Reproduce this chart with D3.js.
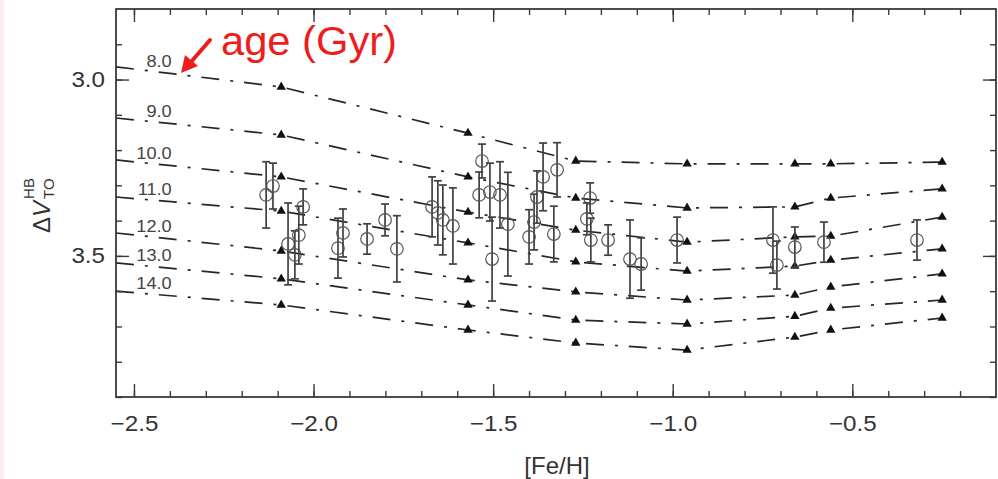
<!DOCTYPE html>
<html>
<head>
<meta charset="utf-8">
<script src="https://cdn.jsdelivr.net/npm/d3@7"></script>
<style>
  html, body { margin: 0; padding: 0; background: #fff; }
  svg { display: block; }
  text { font-family: "Liberation Sans", Arial, Helvetica, sans-serif; }
</style>
</head>
<body>
<svg id="chart" width="998" height="479"></svg>
<script>
// Globular clusters: [Fe/H], ΔV(HB–TO) and its error
const clusterFeH = [-2.132, -2.113, -2.071, -2.052, -2.041, -2.029, -1.932, -1.918, -1.851, -1.801,
  -1.768, -1.670, -1.654, -1.640, -1.612, -1.531, -1.539, -1.509, -1.503, -1.481,
  -1.459, -1.400, -1.386, -1.378, -1.361, -1.322, -1.331, -1.230, -1.239, -1.228,
  -1.180, -1.119, -1.088, -0.988, -0.721, -0.710, -0.660, -0.579, -0.320];
const clusterDV = [3.327, 3.302, 3.466, 3.497, 3.441, 3.361, 3.478, 3.435, 3.452, 3.398,
  3.480, 3.361, 3.378, 3.398, 3.415, 3.231, 3.327, 3.319, 3.509, 3.327,
  3.410, 3.446, 3.404, 3.333, 3.276, 3.256, 3.438, 3.336, 3.395, 3.455,
  3.455, 3.509, 3.523, 3.455, 3.455, 3.526, 3.475, 3.461, 3.455];
const clusterErr = [0.094, 0.065, 0.116, 0.068, 0.082, 0.051, 0.085, 0.068, 0.043, 0.045,
  0.094, 0.085, 0.091, 0.099, 0.108, 0.048, 0.065, 0.082, 0.119, 0.094,
  0.147, 0.077, 0.079, 0.074, 0.096, 0.077, 0.079, 0.043, 0.045, 0.062,
  0.043, 0.111, 0.074, 0.065, 0.094, 0.068, 0.057, 0.057, 0.057];

// Isochrone grid: [Fe/H] nodes (first node is the left edge of the plot, unmarked)
const modelFeH = [-2.55, -2.09, -1.57, -1.27, -0.96, -0.66, -0.56, -0.25];
const ageLabels = ["8.0", "9.0", "10.0", "11.0", "12.0", "13.0", "14.0"];
const dv8  = [2.964, 3.021, 3.152, 3.231, 3.239, 3.239, 3.239, 3.234];
const dv9  = [3.109, 3.157, 3.276, 3.336, 3.364, 3.361, 3.336, 3.310];
const dv10 = [3.228, 3.276, 3.376, 3.427, 3.461, 3.446, 3.444, 3.390];
const dv11 = [3.333, 3.373, 3.463, 3.517, 3.543, 3.529, 3.512, 3.480];
const dv12 = [3.435, 3.486, 3.568, 3.602, 3.625, 3.611, 3.588, 3.551];
const dv13 = [3.520, 3.565, 3.639, 3.682, 3.693, 3.671, 3.648, 3.625];
const dv14 = [3.600, 3.639, 3.710, 3.747, 3.767, 3.730, 3.710, 3.676];

// Axis ticks
const xMajorTicks = [-2.5, -2.0, -1.5, -1.0, -0.5];
const xMinorTicks = d3.range(-25, -1).map(v => v / 10);
const yMajorTicks = [3.0, 3.5];
const yMinorTicks = d3.range(29, 40).map(v => v / 10);

const svg = d3.select("#chart");
const plotLeft = 116, plotRight = 996, plotTop = 9, plotBottom = 397;

const x = d3.scaleLinear().domain([-2.55, -0.1]).range([plotLeft, plotRight]);
const y = d3.scaleLinear().domain([2.8, 3.9]).range([plotTop, plotBottom]);

const ink = "#3a3a3a";
const fmt = d3.format(".1f");

// Faint tint along the left edge of the page
svg.append("rect").attr("x", 0).attr("y", 0).attr("width", 4).attr("height", 479)
  .attr("fill", "#fbeeee");

// Isochrone lines
const lines = [dv8, dv9, dv10, dv11, dv12, dv13, dv14].map((dv, i) => ({
  label: ageLabels[i],
  pts: modelFeH.map((f, j) => ({ f, v: dv[j], idx: j }))
}));

const lineGen = d3.line().x(d => x(d.f)).y(d => y(d.v));

const gModels = svg.append("g");
lines.forEach(L => {
  gModels.append("path")
    .attr("d", lineGen(L.pts))
    .attr("fill", "none")
    .attr("stroke", "#262626")
    .attr("stroke-width", 1.7)
    .attr("stroke-dasharray", "18,11,3,11");
  gModels.selectAll(null)
    .data(L.pts.filter(p => p.idx > 0))
    .join("path")
    .attr("transform", p => `translate(${x(p.f)},${y(p.v)})`)
    .attr("d", d3.symbol(d3.symbolTriangle).size(38))
    .attr("fill", "#111");
  // age label above the start of the line
  const labF = -2.395;
  const p0 = L.pts[0], p1 = L.pts[1];
  const t = (labF - p0.f) / (p1.f - p0.f);
  const vAt = p0.v + t * (p1.v - p0.v);
  gModels.append("text")
    .attr("x", x(labF)).attr("y", y(vAt) - 7)
    .attr("text-anchor", "end")
    .attr("font-size", 16.5)
    .attr("fill", "#444")
    .attr("transform", `translate(${x(labF)},0) scale(1.1,1) translate(${-x(labF)},0)`)
    .text(L.label);
});

// Cluster points with error bars
const clusters = clusterFeH.map((f, i) => ({ f, v: clusterDV[i], e: clusterErr[i] }));
const gPts = svg.append("g").attr("stroke", "#404040").attr("fill", "none");
const cg = gPts.selectAll("g").data(clusters).join("g")
  .attr("transform", d => `translate(${x(d.f)},0)`);
cg.append("line")
  .attr("y1", d => y(d.v - d.e)).attr("y2", d => y(d.v + d.e))
  .attr("stroke-width", 1.7);
cg.append("line")
  .attr("x1", -4).attr("x2", 4)
  .attr("y1", d => y(d.v - d.e)).attr("y2", d => y(d.v - d.e))
  .attr("stroke-width", 1.7);
cg.append("line")
  .attr("x1", -4).attr("x2", 4)
  .attr("y1", d => y(d.v + d.e)).attr("y2", d => y(d.v + d.e))
  .attr("stroke-width", 1.7);
cg.append("circle")
  .attr("cy", d => y(d.v)).attr("r", 6.3)
  .attr("stroke", "#555").attr("stroke-width", 1.2);

// Axes: inward ticks on all four sides
function styleAxis(g) {
  g.select(".domain").remove();
  g.selectAll(".tick line").attr("stroke", ink).attr("stroke-width", 1.4);
  g.selectAll("text").attr("fill", "#333").attr("font-size", 22)
    .attr("font-family", "'Liberation Sans', Arial, sans-serif");
}

svg.append("g").attr("transform", `translate(0,${plotBottom})`)
  .call(d3.axisBottom(x).tickValues(xMinorTicks).tickSize(-6).tickFormat(""))
  .call(styleAxis);
svg.append("g").attr("transform", `translate(0,${plotBottom})`)
  .call(d3.axisBottom(x).tickValues(xMajorTicks).tickSize(-13).tickPadding(18).tickFormat(fmt))
  .call(styleAxis)
  .call(g => g.selectAll("text").attr("transform", "scale(1.1,1)"));

svg.append("g").attr("transform", `translate(0,${plotTop})`)
  .call(d3.axisTop(x).tickValues(xMinorTicks).tickSize(-6).tickFormat(""))
  .call(styleAxis);
svg.append("g").attr("transform", `translate(0,${plotTop})`)
  .call(d3.axisTop(x).tickValues(xMajorTicks).tickSize(-13).tickFormat(""))
  .call(styleAxis);

svg.append("g").attr("transform", `translate(${plotLeft},0)`)
  .call(d3.axisLeft(y).tickValues(yMinorTicks).tickSize(-6).tickFormat(""))
  .call(styleAxis);
svg.append("g").attr("transform", `translate(${plotLeft},0)`)
  .call(d3.axisLeft(y).tickValues(yMajorTicks).tickSize(-13).tickPadding(10).tickFormat(fmt))
  .call(styleAxis)
  .call(g => g.selectAll("text").attr("transform", "scale(1.1,1)"));

svg.append("g").attr("transform", `translate(${plotRight},0)`)
  .call(d3.axisRight(y).tickValues(yMinorTicks).tickSize(-6).tickFormat(""))
  .call(styleAxis);
svg.append("g").attr("transform", `translate(${plotRight},0)`)
  .call(d3.axisRight(y).tickValues(yMajorTicks).tickSize(-13).tickFormat(""))
  .call(styleAxis);

// Frame
svg.append("rect")
  .attr("x", plotLeft).attr("y", plotTop)
  .attr("width", plotRight - plotLeft).attr("height", plotBottom - plotTop)
  .attr("fill", "none").attr("stroke", ink).attr("stroke-width", 1.8);

// X axis title
svg.append("text")
  .attr("x", 557).attr("y", 474)
  .attr("text-anchor", "middle")
  .attr("font-size", 24).attr("fill", "#333")
  .text("[Fe/H]");

// Y axis title: ΔV with stacked HB / TO
const yt = svg.append("g").attr("transform", "translate(50,233) rotate(-90)");
const mainLabel = yt.append("text").attr("x", 0).attr("y", 0)
  .attr("font-size", 24).attr("fill", "#333");
mainLabel.append("tspan").text("Δ");
mainLabel.append("tspan").attr("font-style", "italic").text("V");
const w = mainLabel.node().getComputedTextLength() + 2;
yt.append("text").attr("x", w).attr("y", -16)
  .attr("font-size", 15).attr("fill", "#333").text("HB");
yt.append("text").attr("x", w).attr("y", 4)
  .attr("font-size", 15).attr("fill", "#333").text("TO");

// Annotation
const red = "#ee1c1c";
svg.append("text")
  .attr("x", 221).attr("y", 55)
  .attr("font-size", 40).attr("fill", red)
  .attr("textLength", 176).attr("lengthAdjust", "spacingAndGlyphs")
  .text("age (Gyr)");
svg.append("line")
  .attr("x1", 210).attr("y1", 40).attr("x2", 191).attr("y2", 62)
  .attr("stroke", red).attr("stroke-width", 4).attr("stroke-linecap", "round");
svg.append("path")
  .attr("d", "M181,73 L185,55 L198,66 Z")
  .attr("fill", red);
</script>
</body>
</html>
